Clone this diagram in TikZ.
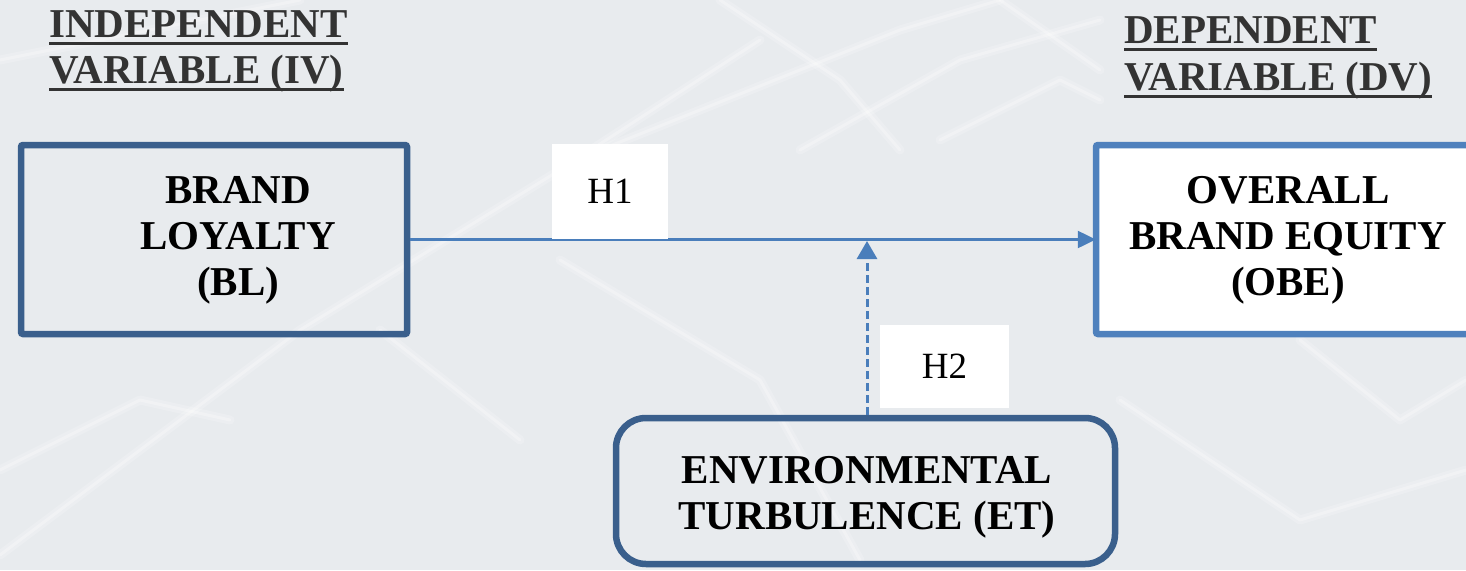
\documentclass[tikz,border=0pt]{standalone}
\usepackage{fontspec}
\setmainfont{Liberation Serif}
\usetikzlibrary{arrows.meta}

\definecolor{bgcol}{HTML}{E8EBEE}
\definecolor{darkblue}{HTML}{3A5F8C}
\definecolor{midblue}{HTML}{4F81BD}
\definecolor{linkblue}{HTML}{4A7EBB}
\definecolor{headgray}{HTML}{333333}

\tikzset{
  heading/.style={anchor=base west, inner sep=0pt, text=headgray,
    font=\fontsize{41}{46}\selectfont\bfseries},
  headrule/.style={draw=headgray, line width=3pt},
  varbox/.style={draw=darkblue, line width=6.5pt, rounded corners=2pt,
    rectangle, inner sep=0pt},
  depbox/.style={draw=midblue, fill=white, line width=6.5pt, rounded corners=2pt,
    rectangle, inner sep=0pt},
  modbox/.style={draw=darkblue, line width=6.5pt, rounded corners=30pt,
    rectangle, inner sep=0pt},
  boxtext/.style={align=center, inner sep=0pt,
    font=\fontsize{41}{46}\selectfont\bfseries},
  hyplabel/.style={fill=white, inner sep=0pt,
    font=\fontsize{37}{40}\selectfont},
  mainlink/.style={draw=linkblue, line width=2.5pt,
    -{Triangle[length=18pt, width=17pt]}},
  modlink/.style={draw=linkblue, line width=3pt, dash pattern=on 8pt off 4pt,
    -{Triangle[length=18pt, width=20pt]}},
  bglinewide/.style={draw=white, opacity=0.18, line width=9pt, line cap=round, line join=round},
  bglinecore/.style={draw=white, opacity=0.28, line width=3pt, line cap=round, line join=round},
}

\newcommand{\softline}[1]{%
  \draw[bglinewide] #1;
  \draw[bglinecore] #1;}

\begin{document}
\begin{tikzpicture}[x=1pt, y=-1pt]
  % page and background
  \useasboundingbox (0,0) rectangle (1466,570);
  \clip (0,0) rectangle (1466,570);
  \fill[bgcol] (0,0) rectangle (1466,570);

  % faint network texture
  \softline{(0,555) -- (300,330) -- (560,170) -- (760,40)}
  \softline{(380,330) -- (520,440)}
  \softline{(0,60) -- (200,20) -- (300,0)}
  \softline{(720,0) -- (840,80) -- (900,150)}
  \softline{(600,150) -- (900,30) -- (1000,0)}
  \softline{(800,150) -- (960,60) -- (1100,20)}
  \softline{(940,140) -- (1060,80) -- (1100,100)}
  \softline{(1000,0) -- (1100,70)}
  \softline{(560,260) -- (760,380) -- (860,560)}
  \softline{(0,470) -- (140,400) -- (230,420)}
  \softline{(1120,400) -- (1300,520) -- (1466,470)}
  \softline{(1300,340) -- (1400,420) -- (1466,380)}

  % column headings
  \node[heading] (iv1) at (49,37) {INDEPENDENT};
  \node[heading] (iv2) at (49,83) {VARIABLE (IV)};
  \node[heading] (dv1) at (1124,43) {DEPENDENT};
  \node[heading] (dv2) at (1124,90) {VARIABLE (DV)};
  \foreach \h in {iv1,iv2,dv1,dv2}
    \draw[headrule] ([yshift=-6.5pt]\h.base west) -- ([yshift=-6.5pt]\h.base east);

  % variable boxes
  \node[varbox, minimum width=386pt, minimum height=189pt] (bl) at (214,239.5) {};
  \node[boxtext] (bltext) at (238,240) {BRAND\\LOYALTY\\(BL)};

  \node[depbox, minimum width=420pt, minimum height=189pt] (obe) at (1306,239.5) {};
  \node[boxtext] (obetext) at (1288,240) {OVERALL\\BRAND EQUITY\\(OBE)};

  \node[modbox, minimum width=499pt, minimum height=146pt] (et) at (865.5,491) {};
  \node[boxtext] (ettext) at (867,497) {ENVIRONMENTAL\\TURBULENCE (ET)};

  % hypothesis links
  \draw[mainlink] (bl.east) -- ([xshift=3pt]obe.west);
  \coordinate (meet) at (867,239.5);
  \draw[modlink] (et.north -| meet) -- ([yshift=-1.5pt]meet);

  % hypothesis labels
  \node[hyplabel, minimum width=116pt, minimum height=95pt] (h1) at (610,191.5) {H1};
  \node[hyplabel, minimum width=129pt, minimum height=83pt] (h2) at (944.5,366.5) {H2};
\end{tikzpicture}
\end{document}
